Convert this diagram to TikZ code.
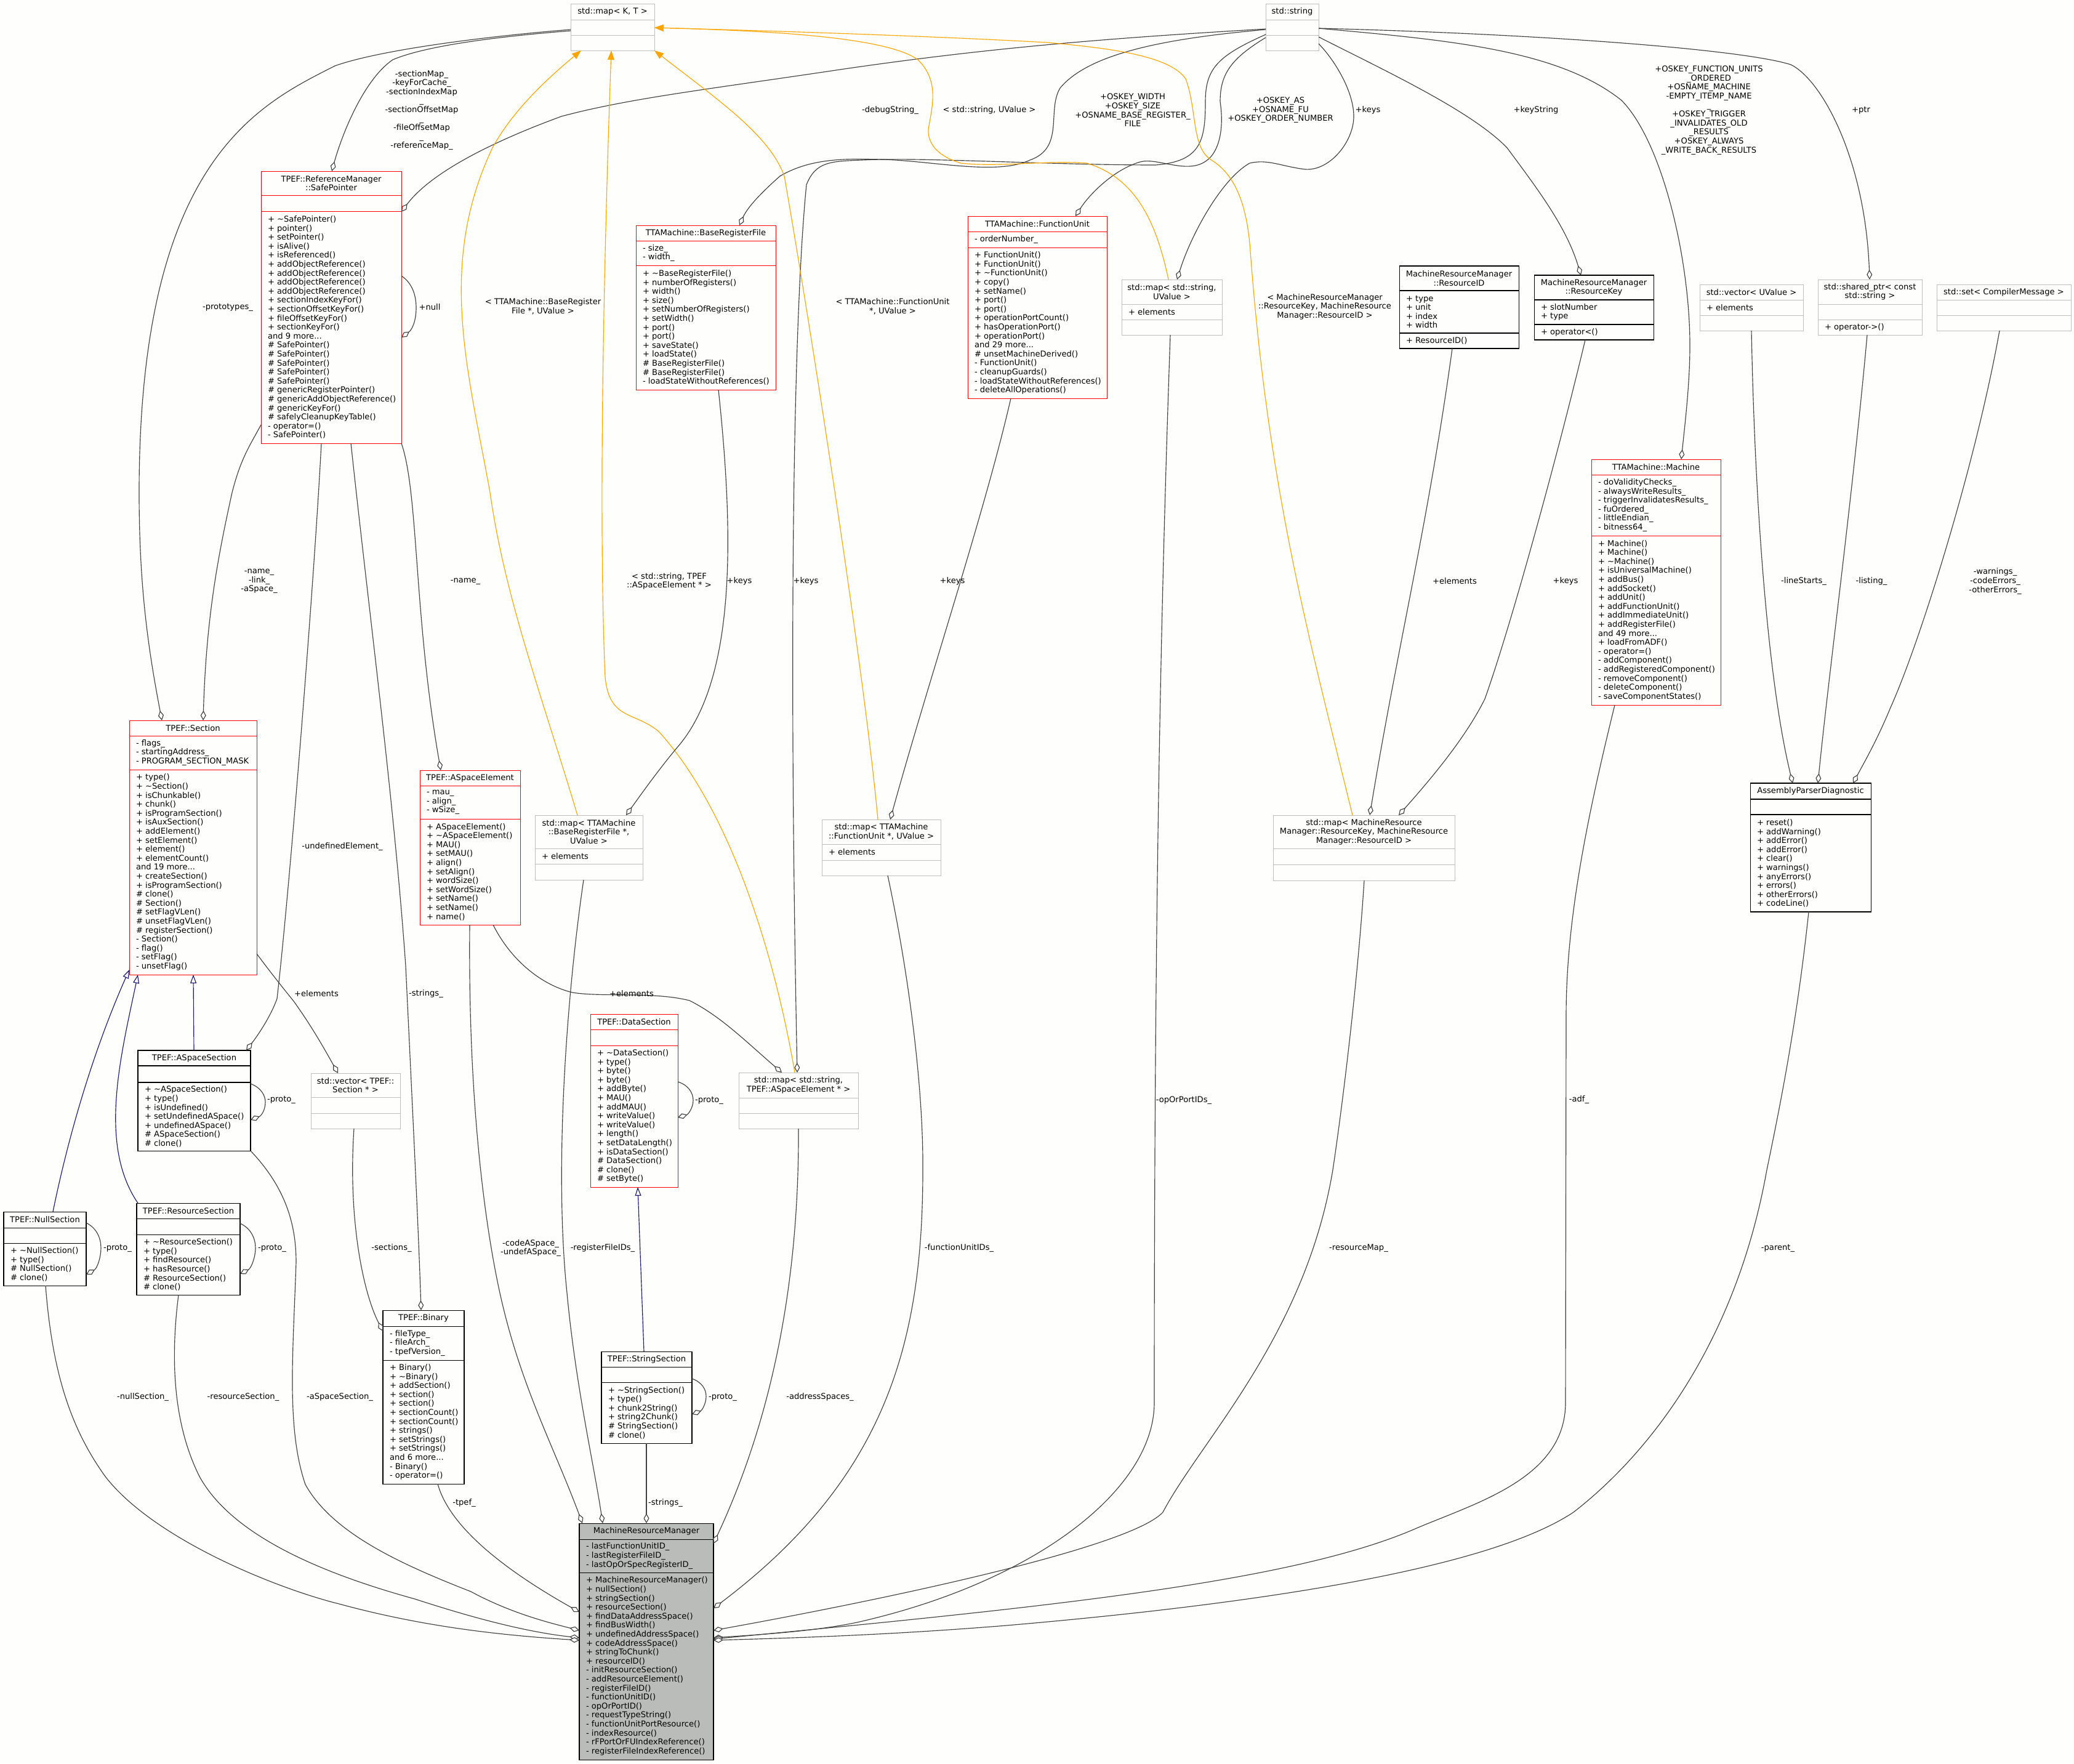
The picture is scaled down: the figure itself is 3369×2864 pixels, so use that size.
\documentclass[tikz,border=0pt]{standalone}
\usepackage{fontspec}
\setmainfont{DejaVu Sans}
\usetikzlibrary{arrows.meta}
\definecolor{edgecol}{HTML}{404040}
\definecolor{greybox}{HTML}{BFBFBF}
\definecolor{navyedge}{HTML}{191970}
\definecolor{orangeedge}{HTML}{FFA500}
\definecolor{paper}{HTML}{FEFFFD}
\definecolor{mainfill}{HTML}{BABCBA}
\newcommand\tld{\textasciitilde}
\tikzset{
  boxr/.style={draw=red,line width=0.9pt},
  boxk/.style={draw=black,line width=1.05pt},
  boxg/.style={draw=greybox,line width=1pt},
  boxm/.style={draw=black,line width=1.05pt},
  boxshape/.style={rectangle,inner sep=0pt,outer sep=0pt},
  boxtext/.style={inner sep=0pt,outer sep=0pt,font=\fontsize{13.1}{14.6}\selectfont},
  lbl/.style={boxtext,align=center},
  aggr/.style={draw=edgecol,line width=1.15pt,-{Diamond[fill=white,length=16pt,width=9pt]}},
  inherit/.style={draw=navyedge,line width=1.15pt,-{Triangle[fill=white,length=14pt,width=10pt]}},
  tmpl/.style={draw=orangeedge,line width=1.15pt,-{Triangle[fill=orangeedge,length=15pt,width=11pt]}},
}
% name, style, x0, x1, y0, sep1, sep2, y1, then {title}{attributes}{methods}
\def\umlbox#1#2#3#4#5#6#7#8{%
  \def\ubN{#1}\def\ubS{#2}\def\ubA{#3}\def\ubB{#4}%
  \def\ubC{#5}\def\ubD{#6}\def\ubE{#7}\def\ubF{#8}\umlboxtext}
\def\umlboxtext#1#2#3{%
  \node[boxshape,\ubS,minimum width={\ubB-\ubA},minimum height={\ubF-\ubC}] (\ubN) at ({(\ubA+\ubB)/2},{(\ubC+\ubF)/2}) {};
  \draw[\ubS] (\ubN.west |- 0,\ubD) -- (\ubN.east |- 0,\ubD);
  \draw[\ubS] (\ubN.west |- 0,\ubE) -- (\ubN.east |- 0,\ubE);
  \node[boxtext,align=center] (\ubN-t) at ({(\ubA+\ubB)/2},{(\ubC+\ubD)/2}) {#1};
  \if\relax\detokenize{#2}\relax\else
    \node[boxtext,align=left,anchor=west] (\ubN-a) at ({\ubA+11},{(\ubD+\ubE)/2}) {#2};\fi
  \if\relax\detokenize{#3}\relax\else
    \node[boxtext,align=left,anchor=west] (\ubN-m) at ({\ubA+11},{(\ubE+\ubF)/2}) {#3};\fi
}
\begin{document}
\begin{tikzpicture}[x=1pt,y=-1pt]
\useasboundingbox (0,0) rectangle (3369,2864);
\fill[paper] (0,0) rectangle (3369,2864);

\fill[mainfill] (941,2474) rectangle (1159,2858);

\umlbox{mapkt}{boxg}{927}{1063}{6}{32}{57}{82}{std::map< K, T >}{}{}
\umlbox{stdstr}{boxg}{2056}{2142}{6}{32}{57}{82}{std::string}{}{}
\umlbox{sp}{boxr}{424}{652}{278}{317}{343}{720}{TPEF::ReferenceManager\\::SafePointer}{}{+ \tld SafePointer()\\+ pointer()\\+ setPointer()\\+ isAlive()\\+ isReferenced()\\+ addObjectReference()\\+ addObjectReference()\\+ addObjectReference()\\+ addObjectReference()\\+ sectionIndexKeyFor()\\+ sectionOffsetKeyFor()\\+ fileOffsetKeyFor()\\+ sectionKeyFor()\\and 9 more...\\\# SafePointer()\\\# SafePointer()\\\# SafePointer()\\\# SafePointer()\\\# SafePointer()\\\# genericRegisterPointer()\\\# genericAddObjectReference()\\\# genericKeyFor()\\\# safelyCleanupKeyTable()\\- operator=()\\- SafePointer()}
\umlbox{brf}{boxr}{1033}{1260}{366}{391}{431}{633}{TTAMachine::BaseRegisterFile}{- size\_\\- width\_}{+ \tld BaseRegisterFile()\\+ numberOfRegisters()\\+ width()\\+ size()\\+ setNumberOfRegisters()\\+ setWidth()\\+ port()\\+ port()\\+ saveState()\\+ loadState()\\\# BaseRegisterFile()\\\# BaseRegisterFile()\\- loadStateWithoutReferences()}
\umlbox{fu}{boxr}{1572}{1798}{351}{376.5}{402}{647}{TTAMachine::FunctionUnit}{- orderNumber\_}{+ FunctionUnit()\\+ FunctionUnit()\\+ \tld FunctionUnit()\\+ copy()\\+ setName()\\+ port()\\+ port()\\+ operationPortCount()\\+ hasOperationPort()\\+ operationPort()\\and 29 more...\\\# unsetMachineDerived()\\- FunctionUnit()\\- cleanupGuards()\\- loadStateWithoutReferences()\\- deleteAllOperations()}
\umlbox{mapsu}{boxg}{1822}{1985}{454}{494}{519}{544}{std::map< std::string,\\UValue >}{+ elements}{}
\umlbox{rid}{boxk}{2273}{2467}{432}{472}{541}{566}{MachineResourceManager\\::ResourceID}{+ type\\+ unit\\+ index\\+ width}{+ ResourceID()}
\umlbox{rkey}{boxk}{2492}{2686}{447}{487}{527}{552}{MachineResourceManager\\::ResourceKey}{+ slotNumber\\+ type}{+ operator<()}
\umlbox{vecu}{boxg}{2761}{2929}{462}{487}{512}{537}{std::vector< UValue >}{+ elements}{}
\umlbox{sptr}{boxg}{2953}{3122}{454}{494}{519}{544}{std::shared\_ptr< const\\std::string >}{}{+ operator->()}
\umlbox{setcm}{boxg}{3146}{3364}{462}{487}{512}{537}{std::set< CompilerMessage >}{}{}
\umlbox{mach}{boxr}{2585}{2795}{746}{771}{870}{1145}{TTAMachine::Machine}{- doValidityChecks\_\\- alwaysWriteResults\_\\- triggerInvalidatesResults\_\\- fuOrdered\_\\- littleEndian\_\\- bitness64\_}{+ Machine()\\+ Machine()\\+ \tld Machine()\\+ isUniversalMachine()\\+ addBus()\\+ addSocket()\\+ addUnit()\\+ addFunctionUnit()\\+ addImmediateUnit()\\+ addRegisterFile()\\and 49 more...\\+ loadFromADF()\\- operator=()\\- addComponent()\\- addRegisteredComponent()\\- removeComponent()\\- deleteComponent()\\- saveComponentStates()}
\umlbox{apd}{boxk}{2843}{3039}{1272}{1298}{1323}{1481}{AssemblyParserDiagnostic}{}{+ reset()\\+ addWarning()\\+ addError()\\+ addError()\\+ clear()\\+ warnings()\\+ anyErrors()\\+ errors()\\+ otherErrors()\\+ codeLine()}
\umlbox{mapmrk}{boxg}{2068}{2363}{1324}{1378}{1404}{1430}{std::map< MachineResource\\Manager::ResourceKey, MachineResource\\Manager::ResourceID >}{}{}
\umlbox{sec}{boxr}{210}{417}{1170}{1195}{1250}{1583}{TPEF::Section}{- flags\_\\- startingAddress\_\\- PROGRAM\_SECTION\_MASK}{+ type()\\+ \tld Section()\\+ isChunkable()\\+ chunk()\\+ isProgramSection()\\+ isAuxSection()\\+ addElement()\\+ setElement()\\+ element()\\+ elementCount()\\and 19 more...\\+ createSection()\\+ isProgramSection()\\\# clone()\\\# Section()\\\# setFlagVLen()\\\# unsetFlagVLen()\\\# registerSection()\\- Section()\\- flag()\\- setFlag()\\- unsetFlag()}
\umlbox{ase}{boxr}{682}{845}{1251}{1276}{1330}{1502}{TPEF::ASpaceElement}{- mau\_\\- align\_\\- wSize\_}{+ ASpaceElement()\\+ \tld ASpaceElement()\\+ MAU()\\+ setMAU()\\+ align()\\+ setAlign()\\+ wordSize()\\+ setWordSize()\\+ setName()\\+ setName()\\+ name()}
\umlbox{mapbrf}{boxg}{869}{1044}{1324}{1378}{1403}{1429}{std::map< TTAMachine\\::BaseRegisterFile *,\\UValue >}{+ elements}{}
\umlbox{ass}{boxk}{224}{407}{1706}{1731}{1758}{1869}{TPEF::ASpaceSection}{}{+ \tld ASpaceSection()\\+ type()\\+ isUndefined()\\+ setUndefinedASpace()\\+ undefinedASpace()\\\# ASpaceSection()\\\# clone()}
\umlbox{vecs}{boxg}{505}{650}{1743}{1782}{1808}{1833}{std::vector< TPEF::\\Section * >}{}{}
\umlbox{nulls}{boxk}{6}{140}{1968}{1994}{2019}{2088}{TPEF::NullSection}{}{+ \tld NullSection()\\+ type()\\\# NullSection()\\\# clone()}
\umlbox{ress}{boxk}{222}{390}{1954}{1979}{2005}{2103}{TPEF::ResourceSection}{}{+ \tld ResourceSection()\\+ type()\\+ findResource()\\+ hasResource()\\\# ResourceSection()\\\# clone()}
\umlbox{datas}{boxr}{959}{1101}{1647}{1672.5}{1698}{1928}{TPEF::DataSection}{}{+ \tld DataSection()\\+ type()\\+ byte()\\+ byte()\\+ addByte()\\+ MAU()\\+ addMAU()\\+ writeValue()\\+ writeValue()\\+ length()\\+ setDataLength()\\+ isDataSection()\\\# DataSection()\\\# clone()\\\# setByte()}
\umlbox{bin}{boxk}{622}{754}{2128}{2154}{2209}{2410}{TPEF::Binary}{- fileType\_\\- fileArch\_\\- tpefVersion\_}{+ Binary()\\+ \tld Binary()\\+ addSection()\\+ section()\\+ section()\\+ sectionCount()\\+ sectionCount()\\+ strings()\\+ setStrings()\\+ setStrings()\\and 6 more...\\- Binary()\\- operator=()}
\umlbox{strs}{boxk}{977}{1124}{2195}{2220}{2245}{2344}{TPEF::StringSection}{}{+ \tld StringSection()\\+ type()\\+ chunk2String()\\+ string2Chunk()\\\# StringSection()\\\# clone()}
\umlbox{mapfu}{boxg}{1335}{1528}{1331}{1371}{1397}{1422}{std::map< TTAMachine\\::FunctionUnit *, UValue >}{+ elements}{}
\umlbox{mapase}{boxg}{1200}{1394}{1742}{1783}{1808}{1833}{std::map< std::string,\\TPEF::ASpaceElement * >}{}{}
\umlbox{mrm}{boxm}{941}{1159}{2474}{2500}{2554}{2858}{MachineResourceManager}{- lastFunctionUnitID\_\\- lastRegisterFileID\_\\- lastOpOrSpecRegisterID\_}{+ MachineResourceManager()\\+ nullSection()\\+ stringSection()\\+ resourceSection()\\+ findDataAddressSpace()\\+ findBusWidth()\\+ undefinedAddressSpace()\\+ codeAddressSpace()\\+ stringToChunk()\\+ resourceID()\\- initResourceSection()\\- addResourceElement()\\- registerFileID()\\- functionUnitID()\\- opOrPortID()\\- requestTypeString()\\- functionUnitPortResource()\\- indexResource()\\- rFPortOrFUIndexReference()\\- registerFileIndexReference()}

% connectors out of std::map< K, T > and std::string
\draw[aggr] (mapkt.west |- 0,48) .. controls (800,58) and (620,80) .. (544,107) .. controls (420,170) and (226,260) .. (226,800) .. controls (226,950) and (240,1050) .. (sec.north -| 263,0);
\draw[aggr] (mapkt.west |- 0,50) .. controls (800,60) and (690,75) .. (638,97) .. controls (590,130) and (555,220) .. (sp.north -| 539,0);
\draw[aggr] (stdstr.west |- 0,47) .. controls (1800,62) and (1600,78) .. (1351,115) .. controls (1150,145) and (1020,160) .. (912,189) .. controls (800,230) and (700,280) .. (sp.east |- 0,344);
\draw[aggr] (stdstr.west |- 0,48) .. controls (1900,62) and (1770,85) .. (1722,143) .. controls (1700,180) and (1730,240) .. (1673,260) .. controls (1620,285) and (1520,262) .. (1435,259) .. controls (1380,258) and (1320,255) .. (1267,286) .. controls (1240,310) and (1215,335) .. (brf.north -| 1201,0);
\draw[aggr] (stdstr.west |- 0,56) .. controls (1980,90) and (1958,110) .. (1958,165) .. controls (1958,230) and (1950,262) .. (1877,268) .. controls (1700,268) and (1500,255) .. (1400,260) .. controls (1350,262) and (1325,262) .. (1310,300) .. controls (1290,500) and (1280,1000) .. (mapase.north -| 1295,0);
\draw[aggr] (stdstr.west |- 0,61) .. controls (2000,95) and (1982,120) .. (1982,165) .. controls (1990,220) and (1975,250) .. (1961,260) .. controls (1930,285) and (1880,255) .. (1852,263) .. controls (1810,275) and (1770,315) .. (fu.north -| 1747,0);
\draw[aggr] (stdstr.east |- 0,71) .. controls (2170,100) and (2199,150) .. (2199,189) .. controls (2199,230) and (2160,278) .. (2120,275) .. controls (2080,270) and (2060,258) .. (2030,265) .. controls (1985,290) and (1935,380) .. (mapsu.north -| 1912,0);
\draw[aggr] (stdstr.east |- 0,60) .. controls (2250,115) and (2390,180) .. (2448,240) .. controls (2500,310) and (2545,370) .. (rkey.north -| 2568,0);
\draw[aggr] (stdstr.east |- 0,46) .. controls (2350,65) and (2530,80) .. (2634,163) .. controls (2700,230) and (2745,420) .. (2745,561) .. controls (2745,620) and (2738,680) .. (mach.north -| 2731,0);
\draw[aggr] (stdstr.east |- 0,46) .. controls (2500,55) and (2830,80) .. (2909,105) .. controls (2960,130) and (3030,260) .. (sptr.north -| 3037,0);

% template instantiations
\draw[tmpl] (mapsu.north -| 1898,0) .. controls (1880,370) and (1850,290) .. (1765,265) .. controls (1700,260) and (1620,272) .. (1561,265) .. controls (1510,250) and (1505,220) .. (1509,204) .. controls (1515,170) and (1525,130) .. (1491,97) .. controls (1440,60) and (1250,50) .. (mapkt.east |- 0,45);
\draw[tmpl] (mapmrk.north -| 2197,0) .. controls (2130,1050) and (2060,800) .. (2031,408) .. controls (2025,320) and (2000,280) .. (1968,260) .. controls (1935,240) and (1945,180) .. (1926,128) .. controls (1900,90) and (1800,78) .. (1701,69) .. controls (1500,58) and (1250,50) .. (mapkt.east |- 0,45);
\draw[tmpl] (mapfu.north -| 1426,0) .. controls (1405,1100) and (1320,550) .. (1274,286) .. controls (1250,220) and (1170,165) .. (mapkt.south east);
\draw[tmpl] (mapase.north -| 1291,0) .. controls (1260,1560) and (1190,1320) .. (1070,1188) .. controls (1030,1155) and (990,1170) .. (983,1100) .. controls (970,800) and (985,300) .. (mapkt.south -| 993,0);
\draw[tmpl] (mapbrf.north -| 938,0) .. controls (880,1130) and (820,970) .. (796,800) .. controls (760,600) and (710,430) .. (800,240) .. controls (830,185) and (880,135) .. (mapkt.south -| 944,0);

% SafePointer
\draw[aggr] (sp.east |- 0,448) .. controls (670,460) and (676,480) .. (676,500) .. controls (676,520) and (670,535) .. (sp.east |- 0,548);
\draw[aggr] (sp.west |- 0,690) .. controls (405,725) and (391,745) .. (377,800) .. controls (355,900) and (335,1000) .. (sec.north -| 330,0);
\draw[aggr] (sp.south -| 522,0) .. controls (510,950) and (470,1450) .. (450,1622) .. controls (440,1650) and (420,1680) .. (ass.north -| 400,0);
\draw[aggr] (sp.south -| 570,0) .. controls (600,1000) and (640,1300) .. (659,1569) .. controls (670,1800) and (680,2000) .. (bin.north -| 684,0);
\draw[aggr] (sp.south east) .. controls (680,800) and (672,1000) .. (ase.north -| 716,0);

% members of the maps
\draw[aggr] (brf.south -| 1167,0) .. controls (1190,850) and (1200,1100) .. (1100,1214) .. controls (1070,1250) and (1045,1285) .. (mapbrf.north -| 1017,0);
\draw[aggr] (fu.south -| 1642,0) .. controls (1600,830) and (1510,1100) .. (mapfu.north -| 1446,0);
\draw[aggr] (rid.south -| 2359,0) .. controls (2320,850) and (2270,1050) .. (mapmrk.north -| 2225,0);
\draw[aggr] (rkey.south -| 2575,0) .. controls (2540,700) and (2460,1000) .. (2412,1135) .. controls (2380,1200) and (2320,1270) .. (mapmrk.north -| 2272,0);
\draw[aggr] (ase.south -| 801,0) .. controls (830,1560) and (880,1600) .. (930,1612) .. controls (980,1620) and (1060,1610) .. (1120,1625) .. controls (1170,1650) and (1210,1690) .. (mapase.north -| 1270,0);
\draw[aggr] (sec.east |- 0,1549) .. controls (440,1580) and (460,1605) .. (477,1626) .. controls (505,1665) and (525,1700) .. (vecs.north -| 549,0);
\draw[aggr] (vecs.south -| 575,0) .. controls (565,1980) and (590,2100) .. (bin.west |- 0,2162);
\draw[aggr] (vecu.south -| 2845,0) .. controls (2850,800) and (2870,1100) .. (apd.north -| 2912,0);
\draw[aggr] (sptr.south -| 3033,0) .. controls (3010,800) and (2970,1100) .. (apd.north -| 2953,0);
\draw[aggr] (setcm.south -| 3248,0) .. controls (3210,750) and (3120,1040) .. (3071,1149) .. controls (3050,1200) and (3030,1235) .. (apd.north -| 3010,0);

% inheritance
\draw[inherit] (ass.north -| 315,0) -- (sec.south -| 314,0);
\draw[inherit] (nulls.north -| 86,0) .. controls (110,1850) and (150,1710) .. (sec.west |- 0,1575);
\draw[inherit] (ress.north -| 224,0) .. controls (160,1860) and (195,1720) .. (sec.south -| 224,0);
\draw[inherit] (strs.north -| 1046,0) -- (datas.south -| 1036,0);

% self references
\draw[aggr] (ass.east |- 0,1760) .. controls (425,1767) and (431,1780) .. (431,1790) .. controls (431,1802) and (425,1812) .. (ass.east |- 0,1819);
\draw[aggr] (nulls.east |- 0,1986) .. controls (158,1995) and (164,2012) .. (164,2027) .. controls (164,2042) and (158,2060) .. (nulls.east |- 0,2070);
\draw[aggr] (ress.east |- 0,1987) .. controls (408,1995) and (415,2012) .. (415,2027) .. controls (415,2042) and (408,2060) .. (ress.east |- 0,2069);
\draw[aggr] (datas.east |- 0,1757) .. controls (1118,1762) and (1126,1775) .. (1126,1787) .. controls (1126,1799) and (1118,1810) .. (datas.east |- 0,1815);
\draw[aggr] (strs.east |- 0,2239) .. controls (1140,2245) and (1147,2256) .. (1147,2268) .. controls (1147,2280) and (1140,2291) .. (strs.east |- 0,2297);

% into MachineResourceManager
\draw[aggr] (strs.south -| 1050,0) -- (mrm.north -| 1050,0);
\draw[aggr] (ase.south -| 763,0) .. controls (760,1800) and (790,2000) .. (812,2100) .. controls (845,2250) and (900,2350) .. (mrm.north -| 946,0);
\draw[aggr] (mapbrf.south -| 948,0) .. controls (920,1620) and (900,1900) .. (921,2100) .. controls (935,2250) and (965,2380) .. (mrm.north -| 979,0);
\draw[aggr] (bin.south -| 711,0) .. controls (730,2480) and (820,2550) .. (mrm.west |- 0,2618);
\draw[aggr] (ass.south east) .. controls (465,1930) and (481,1990) .. (481,2050) .. controls (476,2200) and (465,2320) .. (496,2411) .. controls (540,2490) and (650,2540) .. (765,2585) .. controls (830,2620) and (890,2635) .. (mrm.west |- 0,2648);
\draw[aggr] (ress.south -| 290,0) .. controls (275,2220) and (285,2320) .. (324,2398) .. controls (380,2500) and (540,2560) .. (674,2597) .. controls (760,2625) and (850,2650) .. (mrm.west |- 0,2660);
\draw[aggr] (nulls.south -| 74,0) .. controls (85,2230) and (115,2320) .. (171,2398) .. controls (250,2500) and (450,2580) .. (551,2605) .. controls (680,2640) and (800,2655) .. (mrm.west |- 0,2664);
\draw[aggr] (mapase.south -| 1297,0) .. controls (1298,2050) and (1265,2280) .. (mrm.east |- 0,2507);
\draw[aggr] (mapfu.south -| 1442,0) .. controls (1480,1600) and (1500,1780) .. (1499,1900) .. controls (1499,2180) and (1440,2400) .. (mrm.east |- 0,2612);
\draw[aggr] (mapsu.south -| 1901,0) .. controls (1885,1000) and (1875,1500) .. (1875,2278) .. controls (1875,2420) and (1680,2570) .. (1392,2635) .. controls (1320,2650) and (1230,2655) .. (mrm.east |- 0,2660);
\draw[aggr] (mapmrk.south -| 2216,0) .. controls (2205,1600) and (2180,1800) .. (2165,1900) .. controls (2120,2170) and (1950,2340) .. (1889,2456) .. controls (1840,2510) and (1480,2590) .. (mrm.east |- 0,2648);
\draw[aggr] (mach.south -| 2623,0) .. controls (2575,1340) and (2544,1500) .. (2544,1650) -- (2543,2278) .. controls (2543,2400) and (2400,2440) .. (2301,2482) .. controls (2100,2570) and (1700,2610) .. (mrm.east |- 0,2662);
\draw[aggr] (apd.south -| 2938,0) .. controls (2920,1650) and (2895,1780) .. (2870,1900) .. controls (2820,2180) and (2680,2360) .. (2556,2456) .. controls (2430,2540) and (2100,2600) .. (1635,2640) .. controls (1450,2655) and (1300,2660) .. (mrm.east |- 0,2664);

% labels
\node[lbl] (l1) at (685,179) {-sectionMap\_\\-keyForCache\_\\-sectionIndexMap\\\_\\-sectionOffsetMap\\\_\\-fileOffsetMap\\\_\\-referenceMap\_};
\node[lbl] (l2) at (370,499) {-prototypes\_};
\node[lbl] (l3) at (698,499) {+null};
\node[lbl] (l4) at (882,498) {< TTAMachine::BaseRegister\\File *, UValue >};
\node[lbl] (l5) at (1446,179) {-debugString\_};
\node[lbl] (l6) at (1607,179) {< std::string, UValue >};
\node[lbl] (l7) at (1840,179) {+OSKEY\_WIDTH\\+OSKEY\_SIZE\\+OSNAME\_BASE\_REGISTER\_\\FILE};
\node[lbl] (l8) at (2080,179) {+OSKEY\_AS\\+OSNAME\_FU\\+OSKEY\_ORDER\_NUMBER};
\node[lbl] (l9) at (2222,179) {+keys};
\node[lbl] (l10) at (2495,179) {+keyString};
\node[lbl] (l11) at (2776,179) {+OSKEY\_FUNCTION\_UNITS\\\_ORDERED\\+OSNAME\_MACHINE\\-EMPTY\_ITEMP\_NAME\\\_\\+OSKEY\_TRIGGER\\\_INVALIDATES\_OLD\\\_RESULTS\\+OSKEY\_ALWAYS\\\_WRITE\_BACK\_RESULTS};
\node[lbl] (l12) at (3023,179) {+ptr};
\node[lbl] (l13) at (1450,498) {< TTAMachine::FunctionUnit\\{}*, UValue >};
\node[lbl] (l14) at (2152,498) {< MachineResourceManager\\::ResourceKey, MachineResource\\Manager::ResourceID >};
\node[lbl] (l15) at (421,944) {-name\_\\-link\_\\-aSpace\_};
\node[lbl] (l16) at (756,944) {-name\_};
\node[lbl] (l17) at (1087,944) {< std::string, TPEF\\::ASpaceElement * >};
\node[lbl] (l18) at (1201,944) {+keys};
\node[lbl] (l19) at (1309,944) {+keys};
\node[lbl] (l20) at (1547,944) {+keys};
\node[lbl] (l21) at (2363,944) {+elements};
\node[lbl] (l22) at (2543,944) {+keys};
\node[lbl] (l23) at (2930,944) {-lineStarts\_};
\node[lbl] (l24) at (3040,944) {-listing\_};
\node[lbl] (l25) at (3241,944) {-warnings\_\\-codeErrors\_\\-otherErrors\_};
\node[lbl] (l26) at (556,1375) {-undefinedElement\_};
\node[lbl] (l27) at (514,1614) {+elements};
\node[lbl] (l28) at (692,1614) {-strings\_};
\node[lbl] (l29) at (1026,1614) {+elements};
\node[lbl] (l30) at (457,1786) {-proto\_};
\node[lbl] (l31) at (191,2027) {-proto\_};
\node[lbl] (l32) at (442,2027) {-proto\_};
\node[lbl] (l33) at (1152,1787) {-proto\_};
\node[lbl] (l34) at (1174,2269) {-proto\_};
\node[lbl] (l35) at (636,2027) {-sections\_};
\node[lbl] (l36) at (862,2027) {-codeASpace\_\\-undefASpace\_};
\node[lbl] (l37) at (979,2027) {-registerFileIDs\_};
\node[lbl] (l38) at (1923,1787) {-opOrPortIDs\_};
\node[lbl] (l39) at (1558,2027) {-functionUnitIDs\_};
\node[lbl] (l40) at (2207,2027) {-resourceMap\_};
\node[lbl] (l41) at (2565,1786) {-adf\_};
\node[lbl] (l42) at (2888,2027) {-parent\_};
\node[lbl] (l43) at (232,2269) {-nullSection\_};
\node[lbl] (l44) at (395,2269) {-resourceSection\_};
\node[lbl] (l45) at (552,2269) {-aSpaceSection\_};
\node[lbl] (l46) at (754,2441) {-tpef\_};
\node[lbl] (l47) at (1081,2441) {-strings\_};
\node[lbl] (l48) at (1332,2269) {-addressSpaces\_};
\end{tikzpicture}
\end{document}
